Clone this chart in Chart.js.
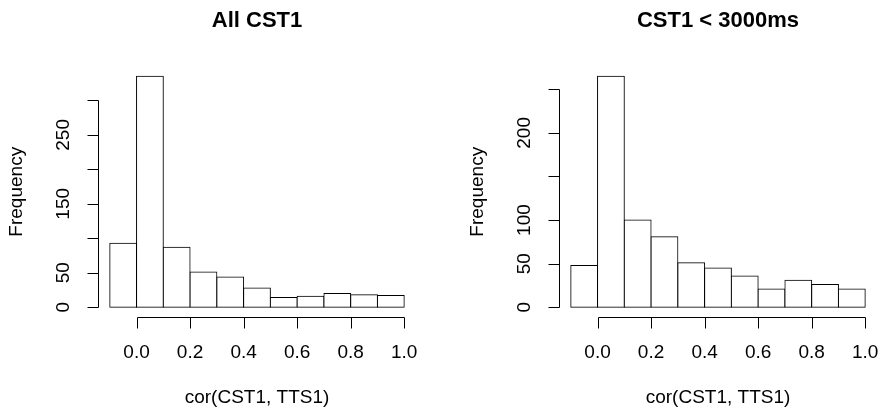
<!DOCTYPE html>
<html><head><meta charset="utf-8">
<script src="https://cdn.jsdelivr.net/npm/chart.js@4"></script>
<style>
html,body{margin:0;padding:0;background:#fff;}
#wrap{position:relative;width:880px;height:412px;overflow:hidden;background:#fff;}
canvas{position:absolute;top:0;}
</style></head><body>
<div id="wrap">
<canvas id="c1" width="440" height="412" style="left:0"></canvas>
<canvas id="c2" width="440" height="412" style="left:440px"></canvas>
</div>
<script>
// ---- data ----
const bins = [-0.05, 0.05, 0.15, 0.25, 0.35, 0.45, 0.55, 0.65, 0.75, 0.85, 0.95];
const countsAll = [93, 335, 87, 51, 44, 28, 14, 16, 20, 18, 17];
const countsUnder3000 = [48, 265, 100, 81, 51, 45, 36, 21, 31, 26, 21];
const xRange = [-0.1, 1.0];
const xTicks = [0, 0.2, 0.4, 0.6, 0.8, 1.0];
const xTickLabels = ['0.0', '0.2', '0.4', '0.6', '0.8', '1.0'];
const yTicksAll = [0, 50, 100, 150, 200, 250, 300];
const yTickLabelsAll = ['0', '50', '', '150', '', '250', ''];
const yTicksUnder3000 = [0, 50, 100, 150, 200, 250];
const yTickLabelsUnder3000 = ['0', '50', '100', '', '200', ''];
const titles = ['All CST1', 'CST1 < 3000ms'];
const xTitle = 'cor(CST1, TTS1)';
const yTitle = 'Frequency';

const FONT = '"Liberation Sans", Arial, Helvetica, sans-serif';

function rAxesPlugin(o) {
  return {
    id: 'rAxes',
    afterDraw(chart) {
      const ctx = chart.ctx, a = chart.chartArea, xs = chart.scales.x, ys = chart.scales.y;
      const snap = v => Math.round(v) + 0.5;
      const tick = 11;
      ctx.save();
      ctx.strokeStyle = '#000'; ctx.fillStyle = '#000'; ctx.lineWidth = 1;
      ctx.beginPath();
      // x axis
      const xb = snap(a.bottom);
      ctx.moveTo(snap(xs.getPixelForValue(o.xTicks[0])), xb);
      ctx.lineTo(snap(xs.getPixelForValue(o.xTicks[o.xTicks.length - 1])), xb);
      o.xTicks.forEach(v => { const p = snap(xs.getPixelForValue(v)); ctx.moveTo(p, xb); ctx.lineTo(p, xb + tick); });
      // y axis
      const yl = snap(a.left);
      ctx.moveTo(yl, snap(ys.getPixelForValue(o.yTicks[0])));
      ctx.lineTo(yl, snap(ys.getPixelForValue(o.yTicks[o.yTicks.length - 1])));
      o.yTicks.forEach(v => { const p = snap(ys.getPixelForValue(v)); ctx.moveTo(yl, p); ctx.lineTo(yl - tick, p); });
      ctx.stroke();
      // tick labels
      ctx.font = '19px ' + FONT;
      ctx.textAlign = 'center'; ctx.textBaseline = 'middle';
      o.xTicks.forEach((v, i) => ctx.fillText(o.xLabels[i], xs.getPixelForValue(v), a.bottom + 36));
      o.yTicks.forEach((v, i) => {
        if (!o.yLabels[i]) return;
        ctx.save(); ctx.translate(a.left - 34, ys.getPixelForValue(v)); ctx.rotate(-Math.PI / 2);
        ctx.fillText(o.yLabels[i], 0, 0); ctx.restore();
      });
      // axis titles
      ctx.fillText(o.xTitle, (a.left + a.right) / 2, a.bottom + 81);
      ctx.save(); ctx.translate(a.left - 81.5, (a.top + a.bottom) / 2); ctx.rotate(-Math.PI / 2);
      ctx.fillText(o.yTitle, 0, 0); ctx.restore();
      // main title
      ctx.font = 'bold 22px ' + FONT;
      ctx.fillText(o.title, (a.left + a.right) / 2, 21);
      ctx.restore();
    }
  };
}

function makeHist(id, counts, title, yTicks, yLabels, padding) {
  const ymax = Math.max(...counts);
  const xspan = xRange[1] - xRange[0];
  new Chart(document.getElementById(id), {
    type: 'bar',
    data: {
      datasets: [{
        data: bins.map((x, i) => ({ x: x, y: counts[i] })),
        backgroundColor: '#ffffff',
        borderColor: '#000000',
        borderWidth: 1,
        borderSkipped: false,
        barPercentage: 1,
        categoryPercentage: 1,
        inflateAmount: 0.5
      }]
    },
    options: {
      responsive: false,
      animation: false,
      layout: { padding: padding },
      plugins: { legend: { display: false }, tooltip: { enabled: false }, title: { display: false } },
      scales: {
        x: { type: 'linear', display: false, offset: false, grid: { offset: false },
             min: xRange[0] - 0.04 * xspan, max: xRange[1] + 0.04 * xspan },
        y: { type: 'linear', display: false, min: -0.04 * ymax, max: 1.04 * ymax }
      }
    },
    plugins: [rAxesPlugin({ xTicks: xTicks, xLabels: xTickLabels, yTicks: yTicks, yLabels: yLabels, title: title, xTitle: xTitle, yTitle: yTitle })]
  });
}

makeHist('c1', countsAll, titles[0], yTicksAll, yTickLabelsAll, { left: 98, right: 24, top: 67, bottom: 95.5 });
makeHist('c2', countsUnder3000, titles[1], yTicksUnder3000, yTickLabelsUnder3000, { left: 119, right: 3, top: 67, bottom: 95.5 });
</script>
</body></html>
